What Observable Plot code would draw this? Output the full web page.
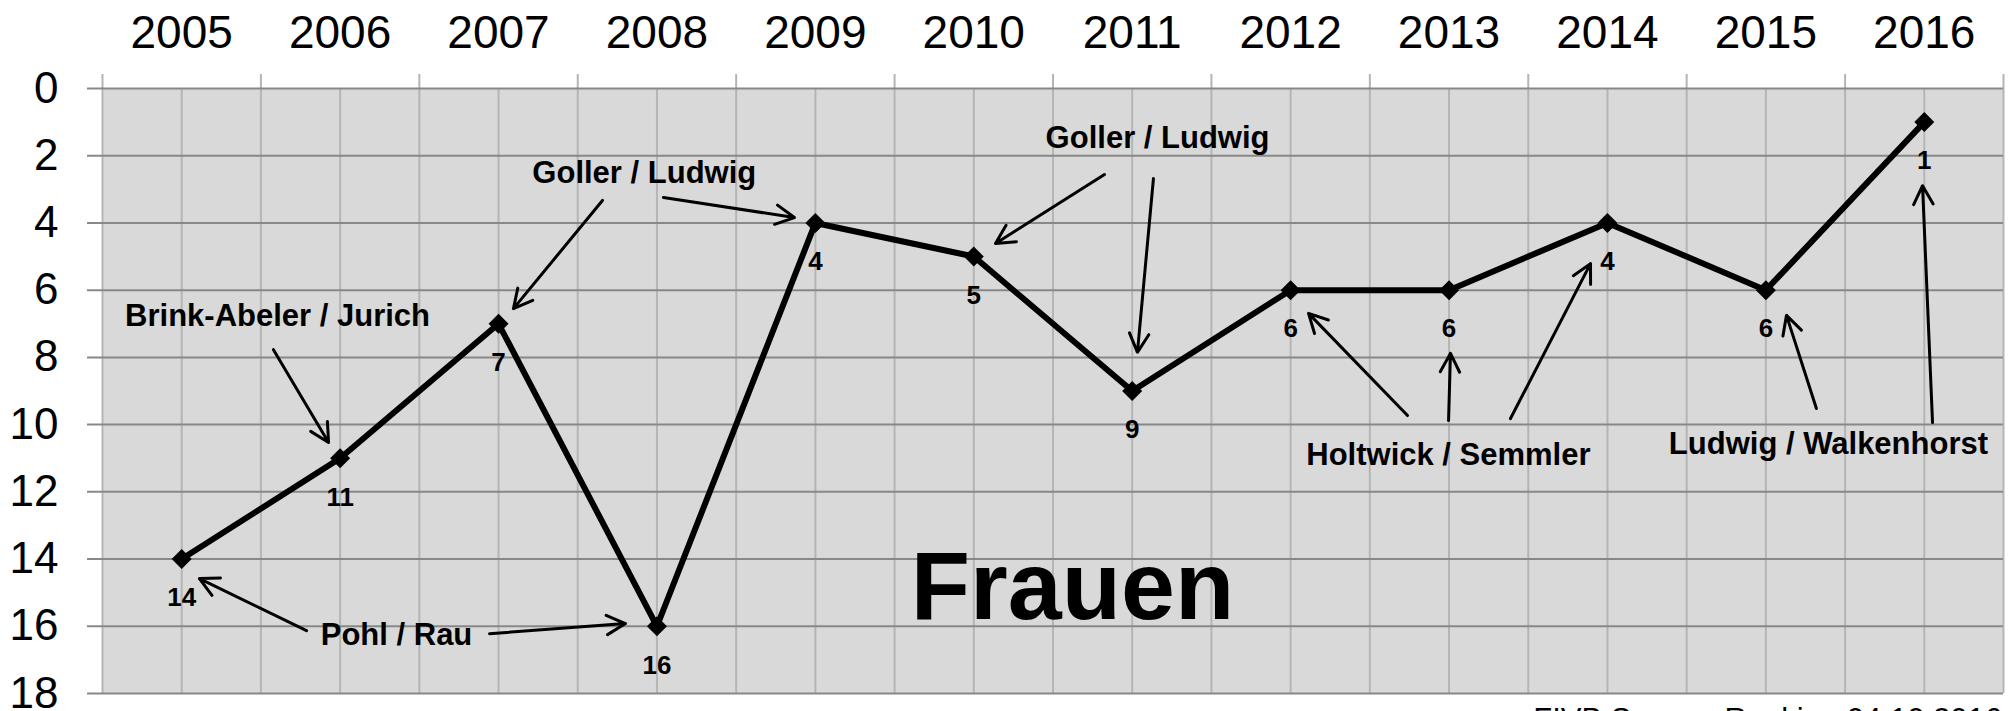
<!DOCTYPE html>
<html>
<head>
<meta charset="utf-8">
<script src="https://cdn.jsdelivr.net/npm/d3@7"></script>
<script src="https://cdn.jsdelivr.net/npm/@observablehq/plot@0.6"></script>
<style>
  html, body { margin: 0; padding: 0; background: #fff; overflow: hidden; }
  #chart svg { display: block; }
  #caption { font-family: "Liberation Sans", Arial, sans-serif; font-size: 31px; line-height: 31px;
             text-align: right; padding-right: 13px; color: #000; width: 2002px; box-sizing: content-box; }
</style>
</head>
<body>
<div id="chart"></div>
<div id="caption">FIVB Season Ranking 04.10.2016</div>
<script>
// Data
const years = [2005, 2006, 2007, 2008, 2009, 2010, 2011, 2012, 2013, 2014, 2015, 2016];
const ranks = [14, 11, 7, 16, 4, 5, 9, 6, 6, 4, 6, 1];
const yTicks = [0, 2, 4, 6, 8, 10, 12, 14, 16, 18];
const yearBoundaries = [2004.5, 2005.5, 2006.5, 2007.5, 2008.5, 2009.5, 2010.5, 2011.5, 2012.5, 2013.5, 2014.5, 2015.5, 2016.5];

// Annotations (data space: year, rank)
const annLabels = ["Goller / Ludwig", "Brink-Abeler / Jurich", "Pohl / Rau", "Goller / Ludwig", "Holtwick / Semmler", "Ludwig / Walkenhorst"];
const annX = [2007.92, 2005.605, 2006.356, 2011.16, 2012.996, 2015.395];
const annY = [2.53, 6.78, 16.27, 1.47, 10.92, 10.59];
const titleText = ["Frauen"];
const titleX = [2010.623];
const titleY = [14.85];

// Arrows (start -> end, data space)
const arrowX1 = [2007.656, 2008.041, 2005.579, 2005.788, 2006.943, 2010.825, 2011.134, 2012.738, 2012.997, 2013.388, 2015.319, 2016.052];
const arrowY1 = [3.33, 3.24, 7.77, 16.13, 16.22, 2.56, 2.68, 9.73, 9.88, 9.82, 9.52, 9.94];
const arrowX2 = [2007.094, 2008.868, 2005.927, 2005.112, 2007.801, 2010.137, 2011.033, 2012.113, 2013.009, 2013.893, 2015.130, 2015.989];
const arrowY2 = [6.55, 3.84, 10.53, 14.58, 15.92, 4.61, 7.85, 6.69, 7.88, 5.21, 6.75, 2.89];

const table = years.map((y, i) => ({year: y, rank: ranks[i]}));

const chart = Plot.plot({
  width: 2015,
  height: 704,
  marginLeft: 102,
  marginRight: 12,
  marginTop: 88,
  marginBottom: 11,
  style: {fontFamily: "'Liberation Sans', Arial, sans-serif", color: "#000", background: "#fff", overflow: "visible"},
  x: {type: "linear", domain: [2004.5, 2016.5]},
  y: {domain: [0, 18], reverse: true},
  marks: [
    Plot.frame({fill: "#d9d9d9", stroke: "none"}),
    Plot.ruleX(years, {x: d => d, stroke: "#b5b5b5", strokeWidth: 2}),
    Plot.ruleX(yearBoundaries, {x: d => d, stroke: "#b5b5b5", strokeWidth: 2, insetTop: -14}),
    Plot.ruleY(yTicks, {y: d => d, stroke: "#888888", strokeWidth: 2, insetLeft: -15}),
    Plot.axisX(years, {anchor: "top", tickSize: 0, tickPadding: 41, fontSize: 46, tickFormat: d => String(d), label: null}),
    Plot.axisY(yTicks, {anchor: "left", tickSize: 0, tickPadding: 44, fontSize: 44, tickFormat: d => String(d), label: null}),
    Plot.line(table, {x: "year", y: "rank", stroke: "#000", strokeWidth: 6, strokeLinejoin: "miter"}),
    Plot.dot(table, {x: "year", y: "rank", symbol: "diamond2", r: 9, fill: "#000", stroke: "none"}),
    Plot.text(table, {x: "year", y: "rank", text: d => String(d.rank), dy: 39, fontSize: 26, fontWeight: "bold", fill: "#000"}),
    Plot.arrow(arrowX1, {x1: arrowX1, y1: arrowY1, x2: arrowX2, y2: arrowY2, stroke: "#000", strokeWidth: 3, headLength: 10.5, headAngle: 55}),
    Plot.text(annLabels, {x: annX, y: annY, text: d => d, fontSize: 31, fontWeight: "bold", fill: "#000"}),
    Plot.text(titleText, {x: titleX, y: titleY, text: d => d, fontSize: 97, fontWeight: "bold", fill: "#000"})
  ]
});
document.getElementById("chart").appendChild(chart);
</script>
</body>
</html>
